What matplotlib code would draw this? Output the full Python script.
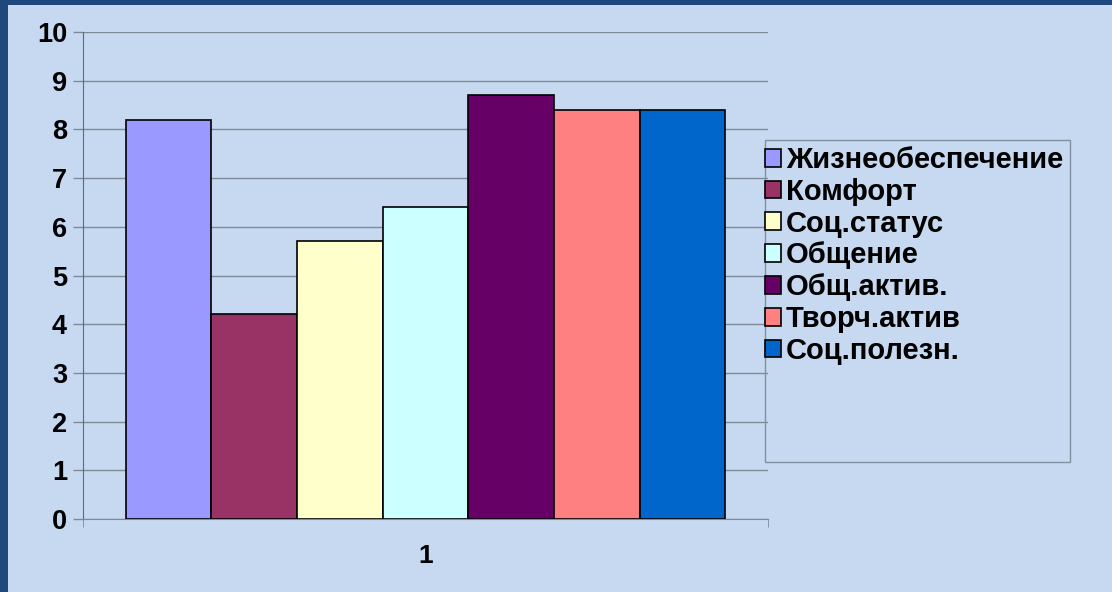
import numpy as np
import matplotlib
matplotlib.use("Agg")
import matplotlib.pyplot as plt
from matplotlib.patches import Rectangle

# data
categories = ['Жизнеобеспечение', 'Комфорт', 'Соц.статус', 'Общение',
              'Общ.актив.', 'Творч.актив', 'Соц.полезн.']
values = [8.2, 4.2, 5.7, 6.4, 8.7, 8.4, 8.4]
colors = ['#9999FF', '#993366', '#FFFFCC', '#CCFFFF', '#660066', '#FF8080', '#0066CC']
group_label = '1'

BG = '#c6d9f0'
BORDER = '#1f497d'
GRID = '#7f8a99'

plt.rcParams['font.family'] = ['Liberation Sans', 'DejaVu Sans']
plt.rcParams['font.weight'] = 'bold'

fig = plt.figure(figsize=(11.12, 5.92), dpi=100, facecolor=BG)

# dark blue frame on top and left
fig.patches.append(Rectangle((0, 0), 8 / 1112, 1, transform=fig.transFigure,
                             facecolor=BORDER, edgecolor='none', zorder=0))
fig.patches.append(Rectangle((0, 1 - 5 / 592), 1, 5 / 592, transform=fig.transFigure,
                             facecolor=BORDER, edgecolor='none', zorder=0))

ax = fig.add_axes([83 / 1112, 73 / 592, 685 / 1112, 487 / 592])
ax.set_facecolor(BG)

x = np.arange(len(values))
bars = ax.bar(x, values, width=1.0, color=colors, edgecolor='black', linewidth=1.2,
              zorder=3, label=categories)

ax.set_xlim(-1.0, len(values))
ax.set_ylim(0, 10)
ax.set_yticks(np.arange(0, 11, 1))
ax.yaxis.grid(True, color=GRID, linewidth=1.0)
ax.set_axisbelow(True)

ax.set_xticks([(len(values) - 1) / 2])
ax.set_xticklabels([group_label])
ax.set_xticks([-1.0, len(values)], minor=True)
ax.tick_params(axis='x', which='major', length=0, pad=18, labelsize=19, labelcolor='black')
ax.tick_params(axis='x', which='minor', length=6, color=GRID, direction='out')
ax.tick_params(axis='y', length=7.5, color=GRID, width=1.0, pad=4, labelsize=19.5,
               labelcolor='black')

for side in ['top', 'right']:
    ax.spines[side].set_visible(False)
ax.spines['left'].set_color('#5f6a78')
ax.spines['bottom'].set_color(GRID)

# legend box
fig.patches.append(Rectangle((765 / 1112, 1 - 462 / 592), 305 / 1112, 322 / 592,
                             transform=fig.transFigure, facecolor='none',
                             edgecolor='#8090a0', linewidth=1.0, zorder=1))
leg = fig.legend(bars, categories, loc='upper left',
                 bbox_to_anchor=(765 / 1112, 1 - 146 / 592), frameon=False,
                 fontsize=21, handlelength=0.56, handleheight=0.56,
                 handletextpad=0.15, labelspacing=0.13, borderpad=0, borderaxespad=0)

fig.savefig('out.png', dpi=100, facecolor=BG)
